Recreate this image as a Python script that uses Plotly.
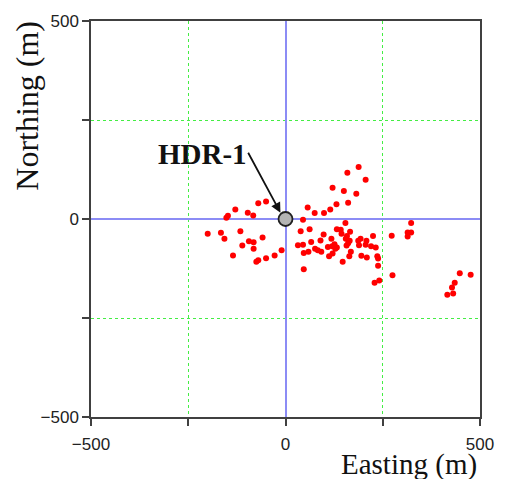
import plotly.graph_objects as go

# Event epicenters (Easting, Northing) in metres
east = [
    -148, -152, -129, -97, -83, -70, -50, -200, -166, -157, -116, -135, -111,
    -94, -82, -82, -59, -75, -70, -50, -28, -10,
    57, 75, 99, 115, 131, 161, 121, 150, 182, 159, 188, 206,
    45, 39, 62, 98, 132, 142, 154, 166, 144, 158, 155, 118, 66, 90, 45, 126,
    157, 165, 161, 187, 193, 208, 225, 189, 206, 220, 232, 76, 83, 109, 120,
    132, 47, 59, 92, 112, 121, 128, 168, 195, 209, 147, 164, 236, 238, 238,
    47, 229, 241, 273, 275, 314, 314, 323, 323, 32,
    416, 431, 428, 435, 448, 476,
]
north = [
    8, 3, 24, 16, 9, 40, 44, -37, -35, -50, -31, -92, -67,
    -56, -59, -75, -47, -108, -104, -99, -92, -79,
    29, 15, 15, 24, 37, 41, 79, 71, 64, 117, 131, 99,
    -2, -31, -26, -39, -26, -27, -10, -32, -37, -43, -50, -50, -58, -54, -65, -64,
    -67, -55, -61, -55, -50, -55, -43, -66, -65, -69, -72, -75, -79, -71, -69,
    -72, -86, -83, -83, -94, -87, -75, -83, -93, -97, -108, -94, -94, -100, -118,
    -127, -161, -155, -42, -142, -34, -44, -34, -10, -66,
    -191, -188, -173, -161, -137, -141,
]

well_x = [0]
well_y = [0]
well_label = "HDR-1"

tick_vals = [-500, -250, 0, 250, 500]
tick_text = ["\u2212500", "", "0", "", "500"]

fig = go.Figure()
fig.add_trace(go.Scatter(
    x=east, y=north, mode="markers",
    marker=dict(color="#ff0000", size=6, line=dict(width=0)),
    showlegend=False, hoverinfo="x+y",
))
fig.add_trace(go.Scatter(
    x=well_x, y=well_y, mode="markers",
    marker=dict(color="#b4b4b4", size=14, line=dict(color="#202020", width=1.8)),
    showlegend=False,
))

axis_common = dict(
    range=[-500, 500],
    tickvals=tick_vals, ticktext=tick_text,
    ticks="outside", ticklen=7, tickwidth=1.5, tickcolor="#404040",
    showline=True, linecolor="#404040", linewidth=1.5, mirror=True,
    showgrid=True, gridcolor="#44ee44", gridwidth=1, griddash="dot",
    zeroline=True, zerolinecolor="#8c8cf5", zerolinewidth=2,
    tickfont=dict(family="Liberation Sans, Arial", size=17, color="#222222"),
    fixedrange=True,
)

fig.update_layout(
    width=506, height=479,
    margin=dict(l=91, r=22, t=20, b=62),
    paper_bgcolor="white", plot_bgcolor="white",
    xaxis=dict(**axis_common, ticklabelstandoff=4),
    yaxis=dict(**axis_common),
)

# Axis titles
fig.add_annotation(
    text="Easting (m)", xref="paper", yref="paper", x=0.998, y=-0.072,
    xanchor="right", yanchor="top", showarrow=False,
    font=dict(family="Liberation Serif, Times New Roman", size=29, color="#111111"),
)
fig.add_annotation(
    text="Northing (m)", xref="paper", yref="paper", x=-0.163, y=0.785,
    xanchor="center", yanchor="middle", showarrow=False, textangle=-90,
    font=dict(family="Liberation Serif, Times New Roman", size=32, color="#111111"),
)

# HDR-1 label and arrow
fig.add_annotation(
    text="<b>" + well_label + "</b>", x=-214, y=164, xref="x", yref="y",
    showarrow=False,
    font=dict(family="Liberation Serif, Times New Roman", size=29, color="#111111"),
)
fig.add_annotation(
    text="", x=-13, y=16, ax=-98, ay=171, xref="x", yref="y",
    axref="x", ayref="y", showarrow=True, arrowhead=2, arrowsize=1.1,
    arrowwidth=1.8, arrowcolor="#111111",
)

fig.write_html("out.html")
